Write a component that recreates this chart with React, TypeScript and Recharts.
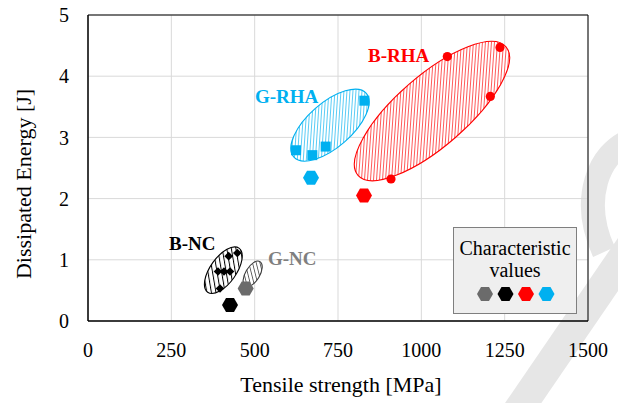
import React from 'react';
import {
  ScatterChart,
  Scatter,
  XAxis,
  YAxis,
  CartesianGrid,
  Legend,
  Label,
  ReferenceArea,
  ReferenceDot,
} from 'recharts';

const FONT = '"Liberation Serif", "Times New Roman", serif';

const xTicks = [0, 250, 500, 750, 1000, 1250, 1500];
const yTicks = [0, 1, 2, 3, 4, 5];

// single specimens
const bncPoints = [
  { x: 422, y: 1.06 },
  { x: 448, y: 1.11 },
  { x: 390, y: 0.81 },
  { x: 408, y: 0.81 },
  { x: 426, y: 0.81 },
  { x: 396, y: 0.53 },
];
const grhaPoints = [
  { x: 624, y: 2.79 },
  { x: 673, y: 2.71 },
  { x: 713, y: 2.85 },
  { x: 829, y: 3.6 },
];
const brhaPoints = [
  { x: 909, y: 2.32 },
  { x: 1078, y: 4.32 },
  { x: 1207, y: 3.67 },
  { x: 1236, y: 4.47 },
];

// characteristic values, legend order
const charNames = ['G-NC', 'B-NC', 'B-RHA', 'G-RHA'];
const charX = [473, 426, 828, 669];
const charY = [0.53, 0.26, 2.05, 2.34];
const charColors = ['#6b6b6b', '#000000', '#ff0000', '#00b0f0'];

// scatter bands: centre, end of the long axis, short/long ratio
const bandNames = ['B-RHA', 'G-RHA', 'B-NC', 'G-NC'];
const bandCx = [1032, 726, 406, 494];
const bandCy = [3.43, 3.2, 0.83, 0.77];
const bandTx = [1254, 835, 453, 516];
const bandTy = [4.48, 3.72, 1.19, 0.97];
const bandRatio = [0.36, 0.46, 0.48, 0.5];
const bandColors = ['#ff0000', '#00b0f0', '#000000', '#3a3a3a'];
const bandGap = [3, 3, 4.5, 3.6];
const bandLine = [1.3, 1.3, 2, 1.5];

// group captions (left end of the text, baseline)
const captionNames = ['B-RHA', 'G-RHA', 'B-NC', 'G-NC'];
const captionX = [840, 501, 243, 540];
const captionY = [4.23, 3.56, 1.16, 0.915];
const captionColors = ['#ff0000', '#00b0f0', '#000000', '#7f7f7f'];

const hexPoints = (cx: number, cy: number, w = 16, h = 14) =>
  [
    [cx - w / 2, cy],
    [cx - w / 4, cy - h / 2],
    [cx + w / 4, cy - h / 2],
    [cx + w / 2, cy],
    [cx + w / 4, cy + h / 2],
    [cx - w / 4, cy + h / 2],
  ]
    .map((p) => p.join(','))
    .join(' ');

const Hexagon = (color: string) => (props: any) => (
  <polygon points={hexPoints(props.cx, props.cy)} fill={color} />
);

const Dot = (props: any) => <circle cx={props.cx} cy={props.cy} r={4.6} fill="#ff0000" />;
const Square = (props: any) => (
  <rect x={props.cx - 5} y={props.cy - 5} width={10} height={10} fill="#00b0f0" />
);
const Diamond = (props: any) => {
  const { cx, cy } = props;
  const s = 4.3;
  return (
    <polygon
      points={`${cx},${cy - s} ${cx + s},${cy} ${cx},${cy + s} ${cx - s},${cy}`}
      fill="#000"
    />
  );
};

// the reference rect spans centre -> tip, so the ellipse is rebuilt from its corners
const bandShape = (i: number) => (props: any) => {
  const { x, y, width, height } = props;
  if (![x, y, width, height].every((v) => Number.isFinite(v))) return null;
  const cx = x;
  const cy = y + height;
  const rx = Math.hypot(width, height);
  const ry = rx * bandRatio[i];
  const deg = (Math.atan2(height, width) * 180) / Math.PI;
  const id = `hatch-${i}`;
  const g = bandGap[i];
  return (
    <g>
      <defs>
        <pattern
          id={id}
          patternUnits="userSpaceOnUse"
          width={g}
          height={g}
          patternTransform="rotate(45)"
        >
          <rect width={g} height={g} fill="#fff" />
          <line x1={0} y1={0} x2={0} y2={g} stroke={bandColors[i]} strokeWidth={bandLine[i]} />
        </pattern>
      </defs>
      <ellipse
        cx={cx}
        cy={cy}
        rx={rx}
        ry={ry}
        fill={`url(#${id})`}
        stroke={bandColors[i]}
        strokeWidth={1.1}
        transform={`rotate(${-deg} ${cx} ${cy})`}
      />
    </g>
  );
};

const captionShape = (i: number) => (props: any) => (
  <text
    x={props.cx}
    y={props.cy}
    fill={captionColors[i]}
    fontFamily={FONT}
    fontSize={19}
    fontWeight="bold"
  >
    {captionNames[i]}
  </text>
);

const LegendBox = () => (
  <svg width={124} height={87}>
    <rect x={0.5} y={0.5} width={123} height={86} fill="#efefef" stroke="#7f7f7f" />
    <text x={62} y={28} textAnchor="middle" fontFamily={FONT} fontSize={20} fill="#000">
      Characteristic
    </text>
    <text x={62} y={50} textAnchor="middle" fontFamily={FONT} fontSize={20} fill="#000">
      values
    </text>
    {charColors.map((c, i) => (
      <polygon key={charNames[i]} points={hexPoints(32 + i * 20.5, 67)} fill={c} />
    ))}
  </svg>
);

const YTitle = (props: any) => {
  const vb = props.viewBox || {};
  const x = (vb.x ?? 0) + 31;
  const y = (vb.y ?? 0) + (vb.height ?? 0) / 2 + 16;
  return (
    <text
      x={x}
      y={y}
      transform={`rotate(-90 ${x} ${y})`}
      textAnchor="middle"
      fontFamily={FONT}
      fontSize={22}
      fill="#000"
    >
      Dissipated Energy [J]
    </text>
  );
};

const XTitle = (props: any) => {
  const vb = props.viewBox || {};
  const x = (vb.x ?? 0) + (vb.width ?? 0) / 2 + 3;
  const y = (vb.y ?? 0) + 71;
  return (
    <text x={x} y={y} textAnchor="middle" fontFamily={FONT} fontSize={22} fill="#000">
      Tensile strength [MPa]
    </text>
  );
};

export default function App() {
  const tickStyle = { fontSize: 20, fill: '#000', fontFamily: FONT };
  return (
    <div style={{ position: 'absolute', left: 0, top: 0, width: 618, height: 403 }}>
      <svg
        width={618}
        height={403}
        style={{ position: 'absolute', left: 0, top: 0 }}
      >
        <path
          d="M 632 140 C 598 152, 580 200, 604 252"
          stroke="#e6e6e6"
          strokeWidth={24}
          fill="none"
        />
        <path d="M 645 225 L 515 415" stroke="#e6e6e6" strokeWidth={30} fill="none" />
      </svg>
      <div style={{ position: 'absolute', left: 0, top: 0 }}>
        <ScatterChart
          width={618}
          height={403}
          margin={{ top: 15, right: 30, bottom: 0, left: 0 }}
        >
          <CartesianGrid stroke="#d9d9d9" strokeWidth={1} />
          <XAxis
            type="number"
            dataKey="x"
            domain={[0, 1500]}
            ticks={xTicks}
            interval={0}
            height={82}
            tickLine={false}
            tickMargin={16}
            axisLine={{ stroke: '#000' }}
            tick={tickStyle}
          >
            <Label content={XTitle} />
          </XAxis>
          <YAxis
            type="number"
            dataKey="y"
            domain={[0, 5]}
            ticks={yTicks}
            interval={0}
            width={88}
            tickLine={false}
            tickMargin={13}
            axisLine={{ stroke: '#000' }}
            tick={tickStyle}
          >
            <Label content={YTitle} />
          </YAxis>
          <ReferenceArea
            x1={0}
            x2={1500}
            y1={0}
            y2={5}
            fill="none"
            stroke="#000"
            strokeWidth={1}
            fillOpacity={0}
          />
          {bandNames.map((n, i) => (
            <ReferenceArea
              key={`band-${n}`}
              x1={bandCx[i]}
              x2={bandTx[i]}
              y1={bandCy[i]}
              y2={bandTy[i]}
              shape={bandShape(i)}
            />
          ))}
          {captionNames.map((n, i) => (
            <ReferenceDot
              key={`cap-${n}`}
              x={captionX[i]}
              y={captionY[i]}
              r={0}
              shape={captionShape(i)}
            />
          ))}
          <Scatter
            name="B-NC"
            data={bncPoints}
            shape={Diamond}
            legendType="none"
            isAnimationActive={false}
          />
          <Scatter
            name="G-RHA"
            data={grhaPoints}
            shape={Square}
            legendType="none"
            isAnimationActive={false}
          />
          <Scatter
            name="B-RHA"
            data={brhaPoints}
            shape={Dot}
            legendType="none"
            isAnimationActive={false}
          />
          {charNames.map((n, i) => (
            <Scatter
              key={`char-${n}`}
              name={`${n} characteristic`}
              data={[{ x: charX[i], y: charY[i] }]}
              shape={Hexagon(charColors[i])}
              fill={charColors[i]}
              legendType="none"
              isAnimationActive={false}
            />
          ))}
          <Legend
            layout="horizontal"
            align="center"
            verticalAlign="middle"
            content={LegendBox}
            wrapperStyle={{ left: 453, top: 227, width: 124, height: 87 }}
          />
        </ScatterChart>
      </div>
    </div>
  );
}
